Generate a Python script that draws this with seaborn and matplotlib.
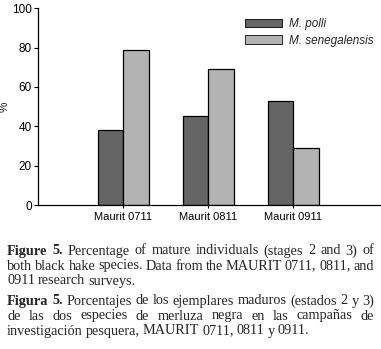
import matplotlib
matplotlib.use("Agg")
import matplotlib.pyplot as plt
import seaborn as sns
import pandas as pd
from matplotlib.patches import Patch

surveys = ["Maurit 0711", "Maurit 0811", "Maurit 0911"]
species = ["M. polli", "M. senegalensis"]
polli = [38, 45, 53]
senegalensis = [79, 69, 29]
yticks = [0, 20, 40, 60, 80, 100]

caption_en = [
    "**Figure **5.** Percentage of mature individuals (stages 2 and 3) of",
    "both black hake species. Data from the MAURIT 0711, 0811, and",
    "0911 research surveys.",
]
caption_es = [
    "**Figura **5.** Porcentajes de los ejemplares maduros (estados 2 y 3)",
    "de las dos especies de merluza negra en las campañas de",
    "investigación pesquera, MAURIT 0711, 0811 y 0911.",
]

df = pd.DataFrame({
    "survey": surveys * 2,
    "species": [species[0]] * 3 + [species[1]] * 3,
    "value": polli + senegalensis,
})

sns.set_theme(style="ticks")
plt.rcParams["font.family"] = ["Liberation Sans", "DejaVu Sans"]

W, H = 381, 349
fig = plt.figure(figsize=(W / 100, H / 100), dpi=100)
ax = fig.add_axes([38 / W, 1 - 205 / H, (380 - 38) / W, (205 - 8.3) / H])

colors = ["#656565", "#b3b3b3"]
sns.barplot(data=df, x="survey", y="value", hue="species", palette=colors,
            width=0.6, edgecolor="black", linewidth=0.9, ax=ax, legend=False,
            saturation=1)

ax.set_xlim(-1.0, 3.02)
ax.set_ylim(0, 100)
ax.set_yticks(yticks)
ax.set_yticklabels([str(t) for t in yticks], fontsize=8.5)
ax.tick_params(axis="y", length=3, width=0.8, pad=1.5, colors="black")
ax.tick_params(axis="x", length=2, width=0.8, pad=3, labelsize=8, colors="black")
ax.set_xlabel("")
ax.set_ylabel("%", fontsize=8.5)
ax.yaxis.set_label_coords(-27 / (380 - 38), 0.5)
for s in ["top", "right"]:
    ax.spines[s].set_visible(False)
for s in ["left", "bottom"]:
    ax.spines[s].set_linewidth(0.9)
    ax.spines[s].set_color("black")

handles = [Patch(facecolor=c, edgecolor="black", linewidth=0.6) for c in colors]
leg = ax.legend(handles, species, loc="upper left", bbox_to_anchor=(0.59, 0.975),
                frameon=False, fontsize=8.5, handlelength=3.2, handleheight=0.7,
                handletextpad=0.6, labelspacing=0.4, borderaxespad=0)
for t in leg.get_texts():
    t.set_fontstyle("italic")

# Caption (justified, explicit line breaks as in the reference)
fig.canvas.draw()
renderer = fig.canvas.get_renderer()
serif = "Liberation Serif"
left_px, right_px = 7, 374


def text_width(s, fs, weight="normal"):
    t = fig.text(0, 0, s, fontsize=fs, family=serif, weight=weight)
    w = t.get_window_extent(renderer).width
    t.remove()
    return w


# slightly larger type; spaces get squeezed a little on the tight lines
fs = 10 * 374 / text_width(caption_en[1], 10)


def parse(line):
    words = []
    if line.startswith("**"):
        parts = line[2:].split("**", 2)
        label = parts[0] + parts[1]
        for w in label.split():
            words.append((w, "bold"))
        rest = parts[2]
    else:
        rest = line
    for w in rest.split():
        words.append((w, "normal"))
    return words


def layout(lines, y_start, step):
    space = text_width("a b", fs) - text_width("ab", fs)
    y = y_start
    for i, line in enumerate(lines):
        words = [(w, wt, text_width(w, fs, wt)) for w, wt in parse(line)]
        total = sum(x[2] for x in words)
        last = i == len(lines) - 1
        gap = space * 0.85 if last else (right_px - left_px - total) / (len(words) - 1)
        x = left_px
        for w, wt, ww in words:
            fig.text(x / W, 1 - y / H, w, fontsize=fs, family=serif, weight=wt,
                     va="baseline", ha="left")
            x += ww + gap
        y += step


layout(caption_en, 254.5, 15)
layout(caption_es, 304.5, 15)

fig.savefig("out.png", dpi=100)
